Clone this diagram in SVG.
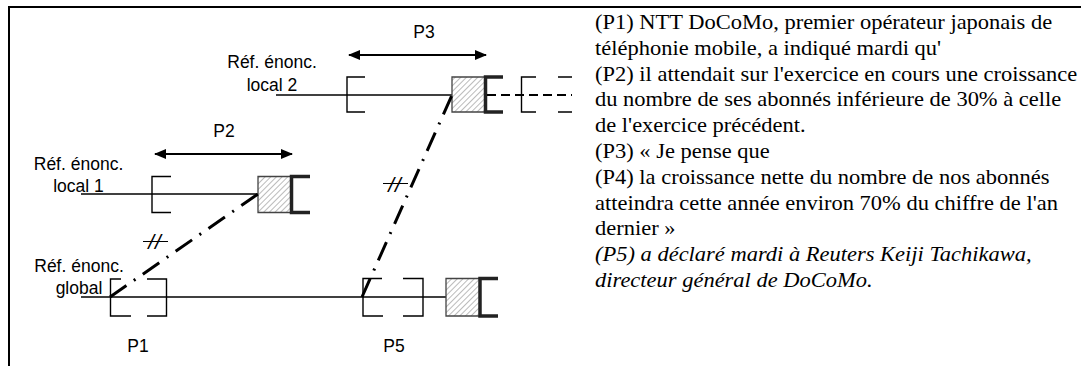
<svg xmlns="http://www.w3.org/2000/svg" width="1081" height="366" viewBox="0 0 1081 366">
<defs>
<style>
.lbl{font-family:"Liberation Sans",Arial,sans-serif;font-size:17.5px;fill:#000;text-anchor:middle}
.sym{font-family:"Liberation Sans",Arial,sans-serif;font-size:21px;font-style:italic;fill:#000;text-anchor:middle;letter-spacing:1px}
.txt{font-family:"Liberation Serif","Times New Roman",serif;font-size:20px;fill:#000}
.it{font-style:italic}
.thin{fill:none;stroke:#000;stroke-width:1.4}
.axis{fill:none;stroke:#000;stroke-width:1.3}
.thick{fill:none;stroke:#222;stroke-width:3.5}
.hfill{fill:url(#h);stroke:none}
.hout{fill:none;stroke:#444;stroke-width:1.3}
.dd{fill:none;stroke:#000;stroke-width:3;stroke-dasharray:20 9 2 9}
.dash{fill:none;stroke:#000;stroke-width:2;stroke-dasharray:9 5}
.arr{stroke:#000;stroke-width:1.8;marker-start:url(#ah);marker-end:url(#ah)}
.bar{stroke:#000;stroke-width:1}
</style>
<pattern id="h" patternUnits="userSpaceOnUse" width="4" height="4" patternTransform="rotate(45)">
<line x1="0" y1="0" x2="0" y2="4" stroke="#555" stroke-width="0.8"/>
</pattern>
<marker id="ah" viewBox="0 0 12 10" refX="11" refY="5" markerWidth="12" markerHeight="10" markerUnits="userSpaceOnUse" orient="auto-start-reverse">
<path d="M0,0 L12,5 L0,10 z" fill="#000"/>
</marker>
</defs>
<rect x="0" y="0" width="1081" height="366" fill="#fff"/>
<g id="frame">
<line x1="8" y1="7" x2="1081" y2="7" stroke="#000" stroke-width="2"/>
<line x1="9" y1="6" x2="9" y2="366" stroke="#000" stroke-width="2"/>
</g>
<g id="local2">
<text class="lbl" x="272" y="68">Réf. énonc.</text>
<text class="lbl" x="272" y="90.5">local 2</text>
<line class="axis" x1="276" y1="95" x2="452" y2="95"/>
<path class="thin" d="M365,77 H347 V112 H365"/>
<rect class="hfill" x="452" y="77" width="33" height="35"/>
<path class="hout" d="M485,77 H452 V112 H485"/>
<path class="thick" d="M503,77 H485.5 V112 H503"/>
<line class="dash" x1="487" y1="95" x2="572" y2="95"/>
<path class="thin" d="M536,77 H521.5 V112 H536"/>
<path class="thin" d="M558,77 H572 M558,112 H572"/>
</g>
<g id="P3">
<line class="arr" x1="349" y1="55" x2="486" y2="55"/>
<text class="lbl" x="424" y="37.5">P3</text>
</g>
<g id="local1">
<text class="lbl" x="78.5" y="170">Réf. énonc.</text>
<text class="lbl" x="78.5" y="192">local 1</text>
<line class="axis" x1="81" y1="194" x2="258" y2="194"/>
<path class="thin" d="M171,176.5 H152 V212.5 H171"/>
<rect class="hfill" x="258" y="176.5" width="33" height="36"/>
<path class="hout" d="M291,176.5 H258 V212.5 H291"/>
<path class="thick" d="M310,176.5 H291.5 V212.5 H310"/>
</g>
<g id="P2">
<line class="arr" x1="155" y1="154" x2="292" y2="154"/>
<text class="lbl" x="224" y="137">P2</text>
</g>
<g id="global">
<text class="lbl" x="79" y="272">Réf. énonc.</text>
<text class="lbl" x="79" y="293.5">global</text>
<line class="axis" x1="81" y1="297" x2="446" y2="297"/>
</g>
<g id="P1">
<path class="thin" d="M121,279 H110.5 V316 H131"/>
<path class="thin" d="M147,279 H166.5 V316 H147"/>
<text class="lbl" x="138" y="352">P1</text>
</g>
<g id="P5">
<path class="thin" d="M382,278.5 H363 V316 H383"/>
<path class="thin" d="M403,278.5 H423 V316 H403"/>
<rect class="hfill" x="446" y="278.5" width="33" height="37.5"/>
<path class="hout" d="M479,278.5 H446 V316 H479"/>
<path class="thick" d="M498,278.5 H480 V316 H498"/>
<text class="lbl" x="394" y="352">P5</text>
</g>
<g id="connectors">
<path class="dd" d="M110,297 L258,194"/>
<path class="dd" d="M362,297 L452,95"/>
<text class="sym" x="155" y="249">//</text>
<line class="bar" x1="143" y1="241.5" x2="168" y2="241.5"/>
<text class="sym" x="395" y="191.5">//</text>
<line class="bar" x1="383" y1="183.5" x2="408" y2="183.5"/>
</g>
<g id="text-block" transform="translate(595,0) scale(1.125,1)">
<text class="txt" x="0" y="29">(P1) NTT DoCoMo, premier opérateur japonais de</text>
<text class="txt" x="0" y="54.8">téléphonie mobile, a indiqué mardi qu'</text>
<text class="txt" x="0" y="80.6">(P2) il attendait sur l'exercice en cours une croissance</text>
<text class="txt" x="0" y="106.4">du nombre de ses abonnés inférieure de 30% à celle</text>
<text class="txt" x="0" y="132.2">de l'exercice précédent.</text>
<text class="txt" x="0" y="158">(P3) « Je pense que</text>
<text class="txt" x="0" y="183.8">(P4) la croissance nette du nombre de nos abonnés</text>
<text class="txt" x="0" y="209.6">atteindra cette année environ 70% du chiffre de l'an</text>
<text class="txt" x="0" y="235.4">dernier »</text>
<text class="txt it" x="0" y="261.2">(P5) a déclaré mardi à Reuters Keiji Tachikawa,</text>
<text class="txt it" x="0" y="287">directeur général de DoCoMo.</text>
</g>
</svg>
